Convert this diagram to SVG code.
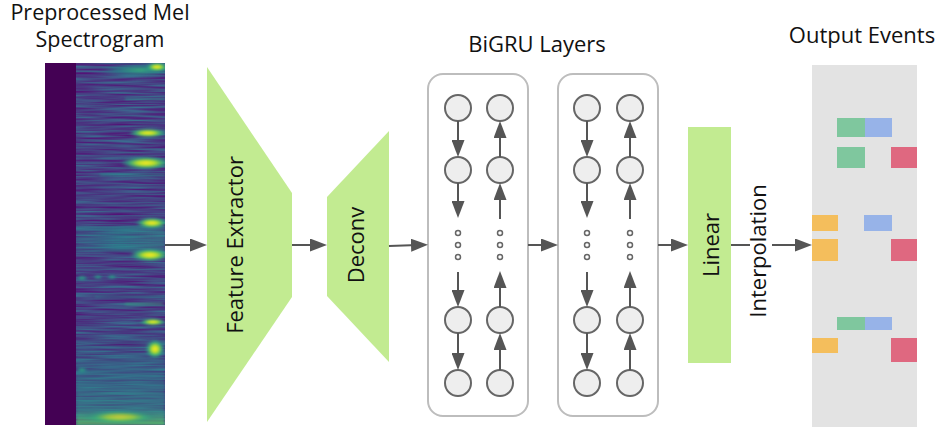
<svg xmlns="http://www.w3.org/2000/svg" width="940" height="431" viewBox="0 0 940 431">
<style>
text{font-family:"Open Sans","Noto Sans","Liberation Sans",sans-serif;font-size:22px;fill:#111}
.lbl{text-anchor:middle}
.ttl{font-size:21.5px}
.block{fill:#c2eb91}
.gru{fill:#fff;stroke:#bdbdbd;stroke-width:2}
.cell{fill:#eeeeee;stroke:#666;stroke-width:2}
.dot{fill:#fff;stroke:#666;stroke-width:1.5}
.arr{stroke:#555;stroke-width:2;fill:none;marker-end:url(#ah)}
.ln{stroke:#555;stroke-width:2;fill:none}
</style>
<defs>
<marker id="ah" viewBox="0 0 17 13" markerWidth="17" markerHeight="13" refX="7" refY="6.5" orient="auto" markerUnits="userSpaceOnUse">
<path d="M0,0 L17,6.5 L0,13 z" fill="#555"/>
</marker>
<filter id="noise" x="0" y="0" width="100%" height="100%" color-interpolation-filters="sRGB">
<feTurbulence type="fractalNoise" baseFrequency="0.02 0.45" numOctaves="2" seed="7" result="n"/>
<feColorMatrix in="n" type="matrix" values="-0.15 0 0 0 0.35  0.55 0 0 0 -0.02  0.15 0 0 0 0.44  0 0 0 0 1" result="c"/>
<feComposite in="c" in2="SourceAlpha" operator="in"/>
</filter>
<filter id="soft" x="-20%" y="-50%" width="140%" height="200%" color-interpolation-filters="sRGB">
<feGaussianBlur stdDeviation="1.5 1"/>
</filter>
<clipPath id="specclip"><rect x="76" y="63" width="89" height="362"/></clipPath>
<radialGradient id="hot">
<stop offset="0" stop-color="#fde725"/>
<stop offset="0.35" stop-color="#b5de2b"/>
<stop offset="0.65" stop-color="#35b779" stop-opacity="0.8"/>
<stop offset="1" stop-color="#21918c" stop-opacity="0"/>
</radialGradient>
<radialGradient id="warm">
<stop offset="0" stop-color="#35b779" stop-opacity="0.9"/>
<stop offset="0.6" stop-color="#21918c" stop-opacity="0.6"/>
<stop offset="1" stop-color="#21918c" stop-opacity="0"/>
</radialGradient>
<linearGradient id="band" x1="0" y1="0" x2="1" y2="0">
<stop offset="0" stop-color="#21918c" stop-opacity="0.25"/>
<stop offset="0.5" stop-color="#21918c" stop-opacity="0.55"/>
<stop offset="1" stop-color="#2a9d8a" stop-opacity="0.4"/>
</linearGradient>
<linearGradient id="vband" x1="0" y1="0" x2="0" y2="1">
<stop offset="0" stop-color="#21918c" stop-opacity="0"/>
<stop offset="0.5" stop-color="#21918c" stop-opacity="0.4"/>
<stop offset="0.85" stop-color="#2a9d8a" stop-opacity="0.5"/>
<stop offset="1" stop-color="#5ec962" stop-opacity="0.8"/>
</linearGradient>
</defs>

<g id="titles">
<text class="lbl ttl" x="100" y="20">Preprocessed Mel</text>
<text class="lbl ttl" x="100" y="47">Spectrogram</text>
<text class="lbl" x="537" y="52">BiGRU Layers</text>
<text class="lbl" x="862" y="43">Output Events</text>
</g>

<g id="spectrogram">
<rect x="45" y="63" width="120" height="362" fill="#440154"/>
<rect x="76" y="63" width="89" height="362" fill="#433e85" filter="url(#noise)"/>
<g clip-path="url(#specclip)">
<g filter="url(#soft)">
<ellipse cx="140" cy="70" rx="40" ry="7" fill="url(#warm)"/>
<ellipse cx="157" cy="67" rx="12" ry="5" fill="url(#hot)"/>
<rect x="125" y="98" width="40" height="2" fill="#2a9d8f" opacity="0.6"/>
<ellipse cx="148" cy="133" rx="20" ry="5" fill="url(#hot)"/>
<ellipse cx="146" cy="163" rx="26" ry="7" fill="url(#hot)"/>
<rect x="100" y="174" width="65" height="2" fill="#1f9e89" opacity="0.5"/>
<rect x="76" y="226" width="89" height="26" fill="url(#band)"/>
<ellipse cx="152" cy="223" rx="17" ry="6" fill="url(#hot)"/>
<ellipse cx="150" cy="255" rx="21" ry="7" fill="url(#hot)"/>
<ellipse cx="82" cy="278" rx="6" ry="3" fill="url(#warm)"/>
<ellipse cx="98" cy="277" rx="5" ry="2.5" fill="url(#warm)"/>
<ellipse cx="112" cy="277" rx="5" ry="2.5" fill="url(#warm)"/>
<rect x="95" y="296" width="70" height="1.5" fill="#21918c" opacity="0.6"/>
<rect x="125" y="303" width="38" height="2" fill="#35b779" opacity="0.5"/>
<rect x="76" y="320" width="89" height="105" fill="url(#vband)"/>
<ellipse cx="153" cy="322" rx="14" ry="4" fill="url(#hot)"/>
<ellipse cx="155" cy="349" rx="10" ry="10" fill="url(#hot)"/>
<ellipse cx="82" cy="370" rx="6" ry="3" fill="url(#warm)"/>
<ellipse cx="120" cy="417" rx="38" ry="7" fill="url(#hot)" opacity="0.7"/>
</g>
</g>
</g>

<g id="feature-extractor">
<polygon class="block" points="207,67 292,193 292,297 207,422"/>
<text class="lbl" transform="translate(243,245) rotate(-90)">Feature Extractor</text>
</g>

<g id="deconv">
<polygon class="block" points="327,197 389,131 389,362 327,296"/>
<text class="lbl" transform="translate(364,245) rotate(-90)">Deconv</text>
</g>

<g id="bigru-1">
<rect class="gru" x="428" y="74" width="100" height="342" rx="15"/>
<circle class="cell" cx="458" cy="108" r="13"/>
<circle class="cell" cx="458" cy="170" r="13"/>
<circle class="cell" cx="458" cy="320" r="13"/>
<circle class="cell" cx="458" cy="383" r="13"/>
<circle class="cell" cx="500" cy="108" r="13"/>
<circle class="cell" cx="500" cy="170" r="13"/>
<circle class="cell" cx="500" cy="320" r="13"/>
<circle class="cell" cx="500" cy="383" r="13"/>
<circle class="dot" cx="458" cy="233" r="2.5"/>
<circle class="dot" cx="458" cy="245" r="2.5"/>
<circle class="dot" cx="458" cy="257" r="2.5"/>
<circle class="dot" cx="500" cy="233" r="2.5"/>
<circle class="dot" cx="500" cy="245" r="2.5"/>
<circle class="dot" cx="500" cy="257" r="2.5"/>
<path class="arr" d="M458,121 V147"/>
<path class="arr" d="M458,183 V208"/>
<path class="arr" d="M458,272 V297"/>
<path class="arr" d="M458,333 V360"/>
<path class="arr" d="M500,370 V343"/>
<path class="arr" d="M500,307 V281"/>
<path class="arr" d="M500,219 V193"/>
<path class="arr" d="M500,157 V131"/>
</g>

<g id="bigru-2">
<rect class="gru" x="558" y="74" width="100" height="342" rx="15"/>
<circle class="cell" cx="587" cy="108" r="13"/>
<circle class="cell" cx="587" cy="170" r="13"/>
<circle class="cell" cx="587" cy="320" r="13"/>
<circle class="cell" cx="587" cy="383" r="13"/>
<circle class="cell" cx="630" cy="108" r="13"/>
<circle class="cell" cx="630" cy="170" r="13"/>
<circle class="cell" cx="630" cy="320" r="13"/>
<circle class="cell" cx="630" cy="383" r="13"/>
<circle class="dot" cx="587" cy="233" r="2.5"/>
<circle class="dot" cx="587" cy="245" r="2.5"/>
<circle class="dot" cx="587" cy="257" r="2.5"/>
<circle class="dot" cx="630" cy="233" r="2.5"/>
<circle class="dot" cx="630" cy="245" r="2.5"/>
<circle class="dot" cx="630" cy="257" r="2.5"/>
<path class="arr" d="M587,121 V147"/>
<path class="arr" d="M587,183 V208"/>
<path class="arr" d="M587,272 V297"/>
<path class="arr" d="M587,333 V360"/>
<path class="arr" d="M630,370 V343"/>
<path class="arr" d="M630,307 V281"/>
<path class="arr" d="M630,219 V193"/>
<path class="arr" d="M630,157 V131"/>
</g>

<g id="linear">
<rect class="block" x="688" y="127" width="43" height="236"/>
<text class="lbl" transform="translate(719,245) rotate(-90)">Linear</text>
</g>

<g id="output-events">
<rect x="812" y="65" width="105" height="362" fill="#e3e3e3"/>
<rect x="837" y="118" width="28" height="19" fill="#7fc79e"/>
<rect x="865" y="118" width="27" height="19" fill="#97b3e8"/>
<rect x="837" y="147" width="28" height="21" fill="#7fc79e"/>
<rect x="891" y="147" width="26" height="21" fill="#df6880"/>
<rect x="812" y="215" width="26" height="16" fill="#f4be5c"/>
<rect x="864" y="215" width="28" height="16" fill="#97b3e8"/>
<rect x="812" y="239" width="26" height="22" fill="#f4be5c"/>
<rect x="891" y="239" width="26" height="22" fill="#df6880"/>
<rect x="837" y="317" width="28" height="13" fill="#7fc79e"/>
<rect x="865" y="317" width="27" height="13" fill="#97b3e8"/>
<rect x="812" y="338" width="26" height="15" fill="#f4be5c"/>
<rect x="891" y="338" width="26" height="24" fill="#df6880"/>
</g>

<g id="connectors">
<path class="arr" d="M165,245 H197"/>
<path class="arr" d="M292,245 H317"/>
<path class="arr" d="M389,246 L418,245"/>
<path class="arr" d="M528,245 H548"/>
<path class="arr" d="M658,245 H678"/>
<path class="ln" d="M731,245 H750"/>
<path class="arr" d="M772,245 H802"/>
<text class="lbl" transform="translate(766,251) rotate(-90)">Interpolation</text>
</g>
</svg>
